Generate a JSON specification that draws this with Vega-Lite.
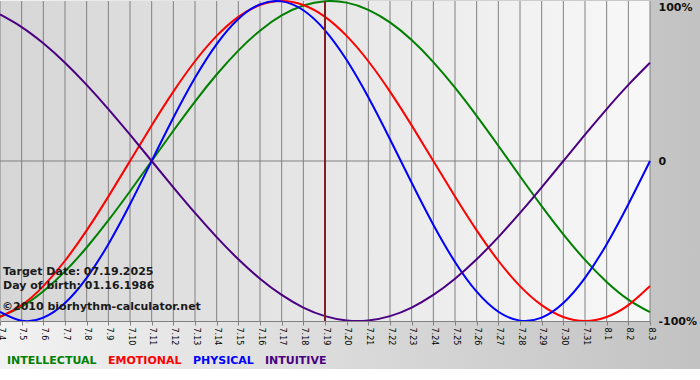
{
  "$schema": "https://vega.github.io/schema/vega-lite/v6.json",
  "width": 700,
  "height": 369,
  "autosize": {"type": "none"},
  "padding": 0,
  "background": "white",
  "config": {
    "view": {"stroke": null, "fill": {"gradient": "linear", "x1": 0, "y1": 0, "x2": 1, "y2": 0, "stops": [{"offset": 0, "color": "#f2f2f2"}, {"offset": 1, "color": "#c2c2c2"}]}},
    "font": "DejaVu Sans"
  },
  "data": {"values": [
    {"date": "7.4", "INTELLECTUAL": -0.9718, "EMOTIONAL": -0.9749, "PHYSICAL": -0.9423, "INTUITIVE": 0.9158},
    {"date": "7.5", "INTELLECTUAL": -0.9096, "EMOTIONAL": -0.9010, "PHYSICAL": -0.9977, "INTUITIVE": 0.8372},
    {"date": "7.6", "INTELLECTUAL": -0.8146, "EMOTIONAL": -0.7818, "PHYSICAL": -0.9791, "INTUITIVE": 0.7357},
    {"date": "7.7", "INTELLECTUAL": -0.6901, "EMOTIONAL": -0.6235, "PHYSICAL": -0.8879, "INTUITIVE": 0.6142},
    {"date": "7.8", "INTELLECTUAL": -0.5406, "EMOTIONAL": -0.4339, "PHYSICAL": -0.7308, "INTUITIVE": 0.4759},
    {"date": "7.9", "INTELLECTUAL": -0.3717, "EMOTIONAL": -0.2225, "PHYSICAL": -0.5196, "INTUITIVE": 0.3247},
    {"date": "7.10", "INTELLECTUAL": -0.1893, "EMOTIONAL": 0, "PHYSICAL": -0.2698, "INTUITIVE": 0.1646},
    {"date": "7.11", "INTELLECTUAL": 0, "EMOTIONAL": 0.2225, "PHYSICAL": 0, "INTUITIVE": 0},
    {"date": "7.12", "INTELLECTUAL": 0.1893, "EMOTIONAL": 0.4339, "PHYSICAL": 0.2698, "INTUITIVE": -0.1646},
    {"date": "7.13", "INTELLECTUAL": 0.3717, "EMOTIONAL": 0.6235, "PHYSICAL": 0.5196, "INTUITIVE": -0.3247},
    {"date": "7.14", "INTELLECTUAL": 0.5406, "EMOTIONAL": 0.7818, "PHYSICAL": 0.7308, "INTUITIVE": -0.4759},
    {"date": "7.15", "INTELLECTUAL": 0.6901, "EMOTIONAL": 0.9010, "PHYSICAL": 0.8879, "INTUITIVE": -0.6142},
    {"date": "7.16", "INTELLECTUAL": 0.8146, "EMOTIONAL": 0.9749, "PHYSICAL": 0.9791, "INTUITIVE": -0.7357},
    {"date": "7.17", "INTELLECTUAL": 0.9096, "EMOTIONAL": 1, "PHYSICAL": 0.9977, "INTUITIVE": -0.8372},
    {"date": "7.18", "INTELLECTUAL": 0.9718, "EMOTIONAL": 0.9749, "PHYSICAL": 0.9423, "INTUITIVE": -0.9158},
    {"date": "7.19", "INTELLECTUAL": 0.9989, "EMOTIONAL": 0.9010, "PHYSICAL": 0.8170, "INTUITIVE": -0.9694},
    {"date": "7.20", "INTELLECTUAL": 0.9898, "EMOTIONAL": 0.7818, "PHYSICAL": 0.6311, "INTUITIVE": -0.9966},
    {"date": "7.21", "INTELLECTUAL": 0.9450, "EMOTIONAL": 0.6235, "PHYSICAL": 0.3984, "INTUITIVE": -0.9966},
    {"date": "7.22", "INTELLECTUAL": 0.8660, "EMOTIONAL": 0.4339, "PHYSICAL": 0.1362, "INTUITIVE": -0.9694},
    {"date": "7.23", "INTELLECTUAL": 0.7557, "EMOTIONAL": 0.2225, "PHYSICAL": -0.1362, "INTUITIVE": -0.9158},
    {"date": "7.24", "INTELLECTUAL": 0.6182, "EMOTIONAL": 0, "PHYSICAL": -0.3984, "INTUITIVE": -0.8372},
    {"date": "7.25", "INTELLECTUAL": 0.4582, "EMOTIONAL": -0.2225, "PHYSICAL": -0.6311, "INTUITIVE": -0.7357},
    {"date": "7.26", "INTELLECTUAL": 0.2817, "EMOTIONAL": -0.4339, "PHYSICAL": -0.8170, "INTUITIVE": -0.6142},
    {"date": "7.27", "INTELLECTUAL": 0.0951, "EMOTIONAL": -0.6235, "PHYSICAL": -0.9423, "INTUITIVE": -0.4759},
    {"date": "7.28", "INTELLECTUAL": -0.0951, "EMOTIONAL": -0.7818, "PHYSICAL": -0.9977, "INTUITIVE": -0.3247},
    {"date": "7.29", "INTELLECTUAL": -0.2817, "EMOTIONAL": -0.9010, "PHYSICAL": -0.9791, "INTUITIVE": -0.1646},
    {"date": "7.30", "INTELLECTUAL": -0.4582, "EMOTIONAL": -0.9749, "PHYSICAL": -0.8879, "INTUITIVE": 0},
    {"date": "7.31", "INTELLECTUAL": -0.6182, "EMOTIONAL": -1, "PHYSICAL": -0.7308, "INTUITIVE": 0.1646},
    {"date": "8.1", "INTELLECTUAL": -0.7557, "EMOTIONAL": -0.9749, "PHYSICAL": -0.5196, "INTUITIVE": 0.3247},
    {"date": "8.2", "INTELLECTUAL": -0.8660, "EMOTIONAL": -0.9010, "PHYSICAL": -0.2698, "INTUITIVE": 0.4759},
    {"date": "8.3", "INTELLECTUAL": -0.9450, "EMOTIONAL": -0.7818, "PHYSICAL": 0, "INTUITIVE": 0.6142}
  ]},
  "layer": [
    {
      "data": {"values": [{}]},
      "mark": {"type": "rect", "fill": {"gradient": "linear", "x1": 0, "y1": 0, "x2": 1, "y2": 0, "stops": [{"offset": 0, "color": "#d6d6d6"}, {"offset": 1, "color": "#f8f8f8"}]}},
      "encoding": {
        "x": {"datum": "7.4", "type": "ordinal"},
        "x2": {"datum": "8.3"},
        "y": {"datum": 1, "type": "quantitative"},
        "y2": {"datum": -1}
      }
    },
    {
      "mark": {"type": "rule", "stroke": "#808080", "strokeWidth": 1},
      "encoding": {
        "x": {"field": "date", "type": "ordinal"},
        "y": {"datum": 1, "type": "quantitative"},
        "y2": {"datum": -1}
      }
    },
    {
      "data": {"values": [{}]},
      "mark": {"type": "rule", "stroke": "#808080", "strokeWidth": 1},
      "encoding": {
        "x": {"datum": "7.4", "type": "ordinal"},
        "x2": {"datum": "8.3"},
        "y": {"datum": 0, "type": "quantitative"}
      }
    },
    {
      "transform": [{"fold": ["INTELLECTUAL", "EMOTIONAL", "PHYSICAL", "INTUITIVE"], "as": ["series", "v"]}],
      "mark": {"type": "line", "strokeWidth": 2, "interpolate": "natural"},
      "encoding": {
        "x": {
          "field": "date", "type": "ordinal",
          "scale": {"type": "point", "padding": 0, "range": [0, 650],
            "domain": ["7.4","7.5","7.6","7.7","7.8","7.9","7.10","7.11","7.12","7.13","7.14","7.15","7.16","7.17","7.18","7.19","7.20","7.21","7.22","7.23","7.24","7.25","7.26","7.27","7.28","7.29","7.30","7.31","8.1","8.2","8.3"]},
          "axis": {"title": null, "orient": "bottom", "offset": -48, "domain": true, "domainColor": "#808080", "ticks": true, "tickColor": "#808080", "tickSize": 4, "labelAngle": 90, "labelAlign": "left", "labelBaseline": "middle", "labelFontSize": 8, "labelColor": "#000000", "labelPadding": 2, "labelOverlap": false, "labelFlush": false, "labelBound": false, "grid": false}
        },
        "y": {
          "field": "v", "type": "quantitative",
          "scale": {"domain": [-1, 1], "range": [321, 1], "nice": false, "zero": false},
          "axis": {"title": null, "orient": "right", "offset": -50, "values": [1, 0, -1],
            "labelExpr": "datum.value == 1 ? '100%' : (datum.value == 0 ? '0' : '-100%')",
            "domain": false, "ticks": false, "grid": false, "labelPadding": 8, "labelFontSize": 11, "labelFontWeight": "bold", "labelColor": "#111111", "labelFlush": false, "labelBound": false, "labelOverlap": false,
            "labelBaseline": {"condition": {"test": "datum.value == 1", "value": "top"}, "value": "middle"}}
        },
        "color": {
          "field": "series", "type": "nominal",
          "scale": {"domain": ["INTELLECTUAL", "EMOTIONAL", "PHYSICAL", "INTUITIVE"], "range": ["#008000", "#ff0000", "#0000ff", "#4b0082"]},
          "legend": {"title": null, "orient": "none", "legendX": -4, "legendY": 355, "direction": "horizontal", "columns": 4, "symbolSize": 0, "symbolStrokeWidth": 0, "symbolOpacity": 0, "labelOffset": 0, "columnPadding": -3, "padding": 0, "labelFontSize": 11, "labelFontWeight": "bold", "labelColor": {"expr": "scale('color', datum.value)"}}
        }
      }
    },
    {
      "data": {"values": [{"date": "7.19"}]},
      "mark": {"type": "rule", "stroke": "#7f1f1f", "strokeWidth": 2},
      "encoding": {
        "x": {"field": "date", "type": "ordinal"},
        "y": {"datum": 1, "type": "quantitative"},
        "y2": {"datum": -1}
      }
    },
    {
      "data": {"values": [{"t": "Target Date: 07.19.2025"}]},
      "mark": {"type": "text", "align": "left", "baseline": "middle", "dx": 3, "fontSize": 11, "fontWeight": "bold", "color": "#1a1a1a"},
      "encoding": {
        "x": {"datum": "7.4", "type": "ordinal"},
        "y": {"datum": -0.694, "type": "quantitative"},
        "text": {"field": "t", "type": "nominal"}
      }
    },
    {
      "data": {"values": [{"t": "Day of birth: 01.16.1986"}]},
      "mark": {"type": "text", "align": "left", "baseline": "middle", "dx": 3, "fontSize": 11, "fontWeight": "bold", "color": "#1a1a1a"},
      "encoding": {
        "x": {"datum": "7.4", "type": "ordinal"},
        "y": {"datum": -0.781, "type": "quantitative"},
        "text": {"field": "t", "type": "nominal"}
      }
    },
    {
      "data": {"values": [{"t": "©2010 biorhythm-calculator.net"}]},
      "mark": {"type": "text", "align": "left", "baseline": "middle", "dx": 2, "fontSize": 11, "fontWeight": "bold", "color": "#1a1a1a"},
      "encoding": {
        "x": {"datum": "7.4", "type": "ordinal"},
        "y": {"datum": -0.9125, "type": "quantitative"},
        "text": {"field": "t", "type": "nominal"}
      }
    }
  ]
}
